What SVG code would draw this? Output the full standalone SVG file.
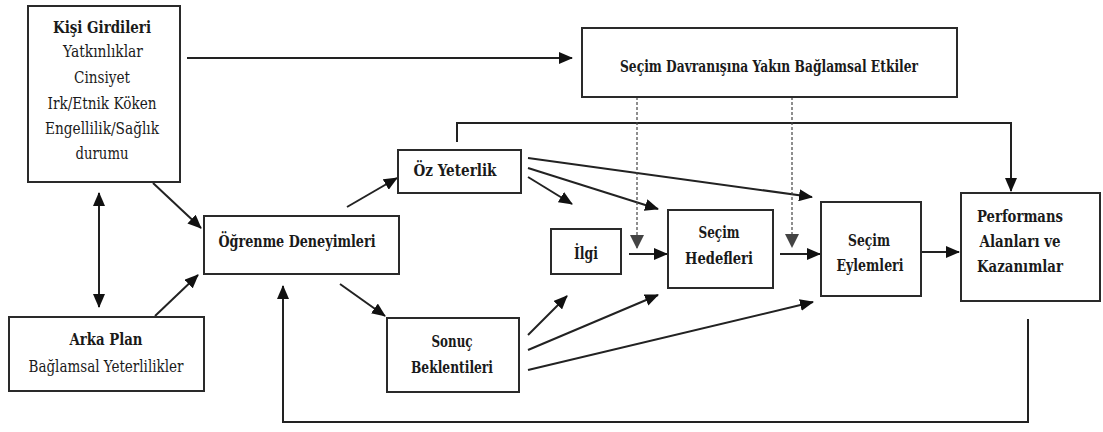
<svg xmlns="http://www.w3.org/2000/svg" width="1103" height="432" viewBox="0 0 1103 432">
<style>
.box{fill:#fff;stroke:#2a2a2a;stroke-width:2}
.t{font-family:'DejaVu Serif Condensed','DejaVu Serif',serif;font-stretch:condensed;font-size:17px;fill:#1a1a1a;text-anchor:middle}
.b{font-weight:bold}
.c{fill:none;stroke:#222;stroke-width:2}
.d{fill:none;stroke:#444;stroke-width:1.2;stroke-dasharray:3,2}
</style>
<defs>
<marker id="ah" markerUnits="userSpaceOnUse" markerWidth="14" markerHeight="12" refX="13" refY="6" orient="auto-start-reverse" viewBox="0 0 14 12">
<path d="M0,0 L14,6 L0,12 z" fill="#111"/>
</marker>
<marker id="dh" markerUnits="userSpaceOnUse" markerWidth="14" markerHeight="14" refX="13" refY="7" orient="auto" viewBox="0 0 14 14">
<path d="M0,0 L14,7 L0,14 z" fill="#444"/>
</marker>
</defs>
<rect width="1103" height="432" fill="#fff"/>
<g id="connectors">
<path class="c" d="M187,58 L572,58" marker-end="url(#ah)"/>
<path class="c" d="M99,193 L99,307" marker-start="url(#ah)" marker-end="url(#ah)"/>
<path class="c" d="M153,183 L201,228" marker-end="url(#ah)"/>
<path class="c" d="M155,316 L198,275" marker-end="url(#ah)"/>
<path class="c" d="M347,207 L397,178" marker-end="url(#ah)"/>
<path class="c" d="M340,284 L385,316" marker-end="url(#ah)"/>
<path class="c" d="M457,142 L457,123 L1011,123 L1011,191" marker-end="url(#ah)"/>
<path class="c" d="M528,158 L812,197" marker-end="url(#ah)"/>
<path class="c" d="M528,168 L658,209" marker-end="url(#ah)"/>
<path class="c" d="M528,177 L572,204" marker-end="url(#ah)"/>
<path class="c" d="M528,335 L567,296" marker-end="url(#ah)"/>
<path class="c" d="M528,350 L658,295" marker-end="url(#ah)"/>
<path class="c" d="M528,370 L813,302" marker-end="url(#ah)"/>
<path class="c" d="M629,254 L667,254" marker-end="url(#ah)"/>
<path class="c" d="M780,254 L820,254" marker-end="url(#ah)"/>
<path class="c" d="M921,252 L959,252" marker-end="url(#ah)"/>
<path class="c" d="M1028,319 L1028,422 L283,422 L283,286" marker-end="url(#ah)"/>
<path class="d" d="M637,97 L637,248" marker-end="url(#dh)"/>
<path class="d" d="M792,97 L792,247" marker-end="url(#dh)"/>
</g>
<g id="kisi-girdileri">
<rect class="box" x="28" y="6" width="152" height="176"/>
<text class="t b" x="102" y="33" textLength="98" lengthAdjust="spacingAndGlyphs">Kişi Girdileri</text>
<text class="t" x="103" y="57" textLength="80" lengthAdjust="spacingAndGlyphs">Yatkınlıklar</text>
<text class="t" x="102" y="83" textLength="56" lengthAdjust="spacingAndGlyphs">Cinsiyet</text>
<text class="t" x="102" y="109" textLength="109" lengthAdjust="spacingAndGlyphs">Irk/Etnik Köken</text>
<text class="t" x="102" y="134" textLength="114" lengthAdjust="spacingAndGlyphs">Engellilik/Sağlık</text>
<text class="t" x="102" y="159" textLength="53" lengthAdjust="spacingAndGlyphs">durumu</text>
</g>
<g id="secim-davranisina">
<rect class="box" x="582" y="28" width="375" height="69"/>
<text class="t b" x="769" y="72" textLength="298" lengthAdjust="spacingAndGlyphs">Seçim Davranışına Yakın Bağlamsal Etkiler</text>
</g>
<g id="arka-plan">
<rect class="box" x="9" y="317" width="195" height="74"/>
<text class="t b" x="106" y="345" textLength="73" lengthAdjust="spacingAndGlyphs">Arka Plan</text>
<text class="t" x="106" y="372" textLength="155" lengthAdjust="spacingAndGlyphs">Bağlamsal Yeterlilikler</text>
</g>
<g id="ogrenme-deneyimleri">
<rect class="box" x="204" y="216" width="195" height="58"/>
<text class="t b" x="297" y="247" textLength="157" lengthAdjust="spacingAndGlyphs">Öğrenme Deneyimleri</text>
</g>
<g id="oz-yeterlik">
<rect class="box" x="398" y="150" width="123" height="43"/>
<text class="t b" x="455" y="176" textLength="83" lengthAdjust="spacingAndGlyphs">Öz Yeterlik</text>
</g>
<g id="sonuc-beklentileri">
<rect class="box" x="387" y="318" width="132" height="74"/>
<text class="t b" x="452" y="347" textLength="41" lengthAdjust="spacingAndGlyphs">Sonuç</text>
<text class="t b" x="452" y="373" textLength="82" lengthAdjust="spacingAndGlyphs">Beklentileri</text>
</g>
<g id="ilgi">
<rect class="box" x="551" y="229" width="70" height="45"/>
<text class="t b" x="586" y="259" textLength="24" lengthAdjust="spacingAndGlyphs">İlgi</text>
</g>
<g id="secim-hedefleri">
<rect class="box" x="668" y="210" width="105" height="78"/>
<text class="t b" x="719" y="238" textLength="41" lengthAdjust="spacingAndGlyphs">Seçim</text>
<text class="t b" x="719" y="264" textLength="68" lengthAdjust="spacingAndGlyphs">Hedefleri</text>
</g>
<g id="secim-eylemleri">
<rect class="box" x="821" y="202" width="100" height="94"/>
<text class="t b" x="869" y="246" textLength="42" lengthAdjust="spacingAndGlyphs">Seçim</text>
<text class="t b" x="870" y="271" textLength="67" lengthAdjust="spacingAndGlyphs">Eylemleri</text>
</g>
<g id="performans">
<rect class="box" x="961" y="193" width="139" height="108"/>
<text class="t b" x="1020" y="222" textLength="86" lengthAdjust="spacingAndGlyphs">Performans</text>
<text class="t b" x="1020" y="247" textLength="81" lengthAdjust="spacingAndGlyphs">Alanları ve</text>
<text class="t b" x="1020" y="272" textLength="86" lengthAdjust="spacingAndGlyphs">Kazanımlar</text>
</g>
</svg>
